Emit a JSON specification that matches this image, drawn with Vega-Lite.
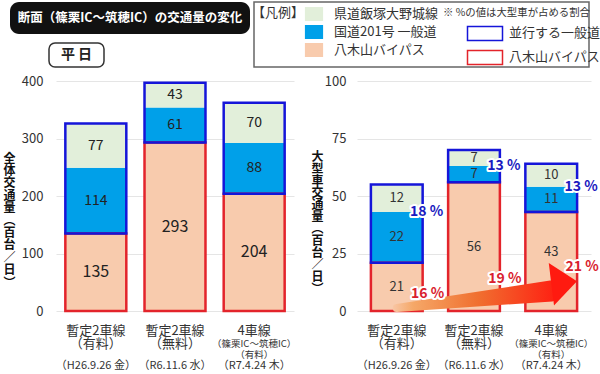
{
  "$schema": "https://vega.github.io/schema/vega-lite/v6.json",
  "padding": {"left": 1, "top": 1, "right": 0, "bottom": 0},
  "background": "white",
  "spacing": 7,
  "config": {
    "font": "Noto Sans CJK JP",
    "view": {"stroke": null},
    "axis": {"labelFont": "Noto Sans CJK JP", "titleFont": "Noto Sans CJK JP"},
    "text": {"font": "Noto Sans CJK JP"},
    "legend": {"labelFont": "Noto Sans CJK JP", "titleFont": "Noto Sans CJK JP"}
  },
  "datasets": {
    "total": [
      {"cat": "暫定2車線（有料）", "seg": "八木山バイパス", "road": "八木山バイパス", "v": 135},
      {"cat": "暫定2車線（有料）", "seg": "国道201号 一般道", "road": "並行する一般道", "v": 114},
      {"cat": "暫定2車線（有料）", "seg": "県道飯塚大野城線", "road": "並行する一般道", "v": 77},
      {"cat": "暫定2車線（無料）", "seg": "八木山バイパス", "road": "八木山バイパス", "v": 293},
      {"cat": "暫定2車線（無料）", "seg": "国道201号 一般道", "road": "並行する一般道", "v": 61},
      {"cat": "暫定2車線（無料）", "seg": "県道飯塚大野城線", "road": "並行する一般道", "v": 43},
      {"cat": "4車線（篠栗IC～筑穂IC）（有料）", "seg": "八木山バイパス", "road": "八木山バイパス", "v": 204},
      {"cat": "4車線（篠栗IC～筑穂IC）（有料）", "seg": "国道201号 一般道", "road": "並行する一般道", "v": 88},
      {"cat": "4車線（篠栗IC～筑穂IC）（有料）", "seg": "県道飯塚大野城線", "road": "並行する一般道", "v": 70}
    ],
    "large": [
      {"cat": "暫定2車線（有料）", "seg": "八木山バイパス", "road": "八木山バイパス", "v": 21},
      {"cat": "暫定2車線（有料）", "seg": "国道201号 一般道", "road": "並行する一般道", "v": 22},
      {"cat": "暫定2車線（有料）", "seg": "県道飯塚大野城線", "road": "並行する一般道", "v": 12},
      {"cat": "暫定2車線（無料）", "seg": "八木山バイパス", "road": "八木山バイパス", "v": 56},
      {"cat": "暫定2車線（無料）", "seg": "国道201号 一般道", "road": "並行する一般道", "v": 7},
      {"cat": "暫定2車線（無料）", "seg": "県道飯塚大野城線", "road": "並行する一般道", "v": 7},
      {"cat": "4車線（篠栗IC～筑穂IC）（有料）", "seg": "八木山バイパス", "road": "八木山バイパス", "v": 43},
      {"cat": "4車線（篠栗IC～筑穂IC）（有料）", "seg": "国道201号 一般道", "road": "並行する一般道", "v": 11},
      {"cat": "4車線（篠栗IC～筑穂IC）（有料）", "seg": "県道飯塚大野城線", "road": "並行する一般道", "v": 10}
    ],
    "shareGeneral": [
      {"cat": "暫定2車線（有料）", "share": 18},
      {"cat": "暫定2車線（無料）", "share": 13},
      {"cat": "4車線（篠栗IC～筑穂IC）（有料）", "share": 13}
    ],
    "shareBypass": [
      {"cat": "暫定2車線（有料）", "share": 16, "lvl": 7.4},
      {"cat": "暫定2車線（無料）", "share": 19, "lvl": 13.9},
      {"cat": "4車線（篠栗IC～筑穂IC）（有料）", "share": 21, "lvl": 19.1}
    ],
    "arrow": [
      {"cat": "暫定2車線（有料）", "lvl": 1.3, "t": 0},
      {"cat": "4車線（篠栗IC～筑穂IC）（有料）", "lvl": 8.7, "t": 1}
    ],
    "arrowHead": [
      {"cat": "4車線（篠栗IC～筑穂IC）（有料）", "lvl": 12.3}
    ]
  },
  "vconcat": [
    {
      "spacing": 8,
      "hconcat": [
        {"width": 1, "height": 10, "data": {"values": []}, "mark": "point"},
        {
          "spacing": 3,
          "hconcat": [
            {
              "spacing": 8,
              "vconcat": [
                {
                  "width": 240, "height": 32,
                  "view": {"fill": "#111111", "stroke": null, "cornerRadius": 9},
                  "data": {"values": [{"t": "断面（篠栗IC～筑穂IC）の交通量の変化"}]},
                  "mark": {"type": "text", "color": "white", "fontSize": 12.5, "fontWeight": "bold"},
                  "encoding": {"text": {"field": "t", "type": "nominal"}}
                },
                {
                  "spacing": 20,
                  "hconcat": [
                    {"width": 18, "height": 24, "data": {"values": []}, "mark": "point"},
                    {
                      "width": 55, "height": 24,
                      "view": {"fill": "white", "stroke": "#333333", "strokeWidth": 1.5, "cornerRadius": 6},
                      "data": {"values": [{"t": "平 日"}]},
                      "mark": {"type": "text", "fontSize": 14, "fontWeight": "bold", "color": "#222222"},
                      "encoding": {"text": {"field": "t", "type": "nominal"}}
                    }
                  ]
                }
              ]
            },
            {
              "width": 335, "height": 65,
              "view": {"fill": "white", "stroke": "#666666", "strokeWidth": 1.5},
              "data": {"values": []},
              "mark": "point"
            }
          ]
        }
      ]
    },
    {
      "spacing": 0,
      "hconcat": [
        {"width": 1, "height": 10, "data": {"values": []}, "mark": "point"},
        {
          "spacing": 14,
          "hconcat": [
            {
              "width": 238, "height": 230,
              "resolve": {"axis": {"x": "independent"}},
              "layer": [
                {
                  "data": {"name": "total"},
                  "transform": [{"stack": "v", "groupby": ["cat"], "sort": [{"field": "seg", "order": "ascending"}], "as": ["v0", "v1"]}],
                  "mark": {"type": "bar"},
                  "encoding": {
                    "x": {"field": "cat", "type": "nominal",
                      "scale": {"domain": ["暫定2車線（有料）", "暫定2車線（無料）", "4車線（篠栗IC～筑穂IC）（有料）"], "paddingInner": 0.23, "paddingOuter": 0.118},
                      "axis": {"orient": "bottom", "title": null, "domain": false, "ticks": false, "grid": false, "labelAngle": 0, "labelFontSize": 13, "labelColor": "#333333", "labelPadding": 13, "labelLineHeight": 13, "labelBaseline": "top", "labelOverlap": false,
                        "labelExpr": "datum.value === '4車線（篠栗IC～筑穂IC）（有料）' ? '4車線' : [slice(datum.value, 0, 5), slice(datum.value, 5)]"}},
                    "y": {"field": "v1", "type": "quantitative", "scale": {"domain": [0, 400]},
                      "axis": {"values": [0, 100, 200, 300, 400], "grid": true, "gridColor": "#e5e5e5", "domain": false, "ticks": false, "labelFontSize": 13, "labelColor": "#333333", "labelPadding": 13,
                        "title": ["全", "体", "交", "通", "量", "︵", "百", "台", "／", "日", "︶"],
                        "titleAngle": 0, "titleAlign": "center", "titleBaseline": "middle", "titleX": -47, "titleY": 77, "titleFontSize": 12, "titleFontWeight": "bold", "titleLineHeight": 12.4, "titleColor": "#111111"}},
                    "y2": {"field": "v0"},
                    "fill": {"field": "seg", "type": "nominal",
                      "scale": {"domain": ["県道飯塚大野城線", "国道201号 一般道", "八木山バイパス"], "range": ["#e2efda", "#00a0e9", "#f8cbad"]},
                      "legend": {"orient": "none", "legendX": 251, "legendY": 5, "title": "【凡例】", "titleOrient": "left", "titleAnchor": "start", "titleBaseline": "top", "titleFontSize": 13, "titleFontWeight": "normal", "titleColor": "#333333", "titlePadding": 2,
                        "symbolType": "M-1.3,-1H1.3V1H-1.3Z", "symbolSize": 196, "symbolStrokeWidth": 0, "labelFontSize": 13, "labelColor": "#333333", "labelOffset": 13, "rowPadding": 4, "padding": 0}}
                  }
                },
                {
                  "data": {"name": "total"},
                  "transform": [
                    {"stack": "v", "groupby": ["cat"], "sort": [{"field": "seg", "order": "ascending"}], "as": ["v0", "v1"]},
                    {"aggregate": [{"op": "min", "field": "v0", "as": "lo"}, {"op": "max", "field": "v1", "as": "hi"}], "groupby": ["cat", "road"]}
                  ],
                  "mark": {"type": "bar", "fill": "transparent", "strokeWidth": 2.5},
                  "encoding": {
                    "x": {"field": "cat", "type": "nominal",
                      "axis": {"orient": "bottom", "title": null, "domain": false, "ticks": false, "grid": false, "labelAngle": 0, "labelFontSize": 9.5, "labelColor": "#333333", "labelPadding": 27, "labelLineHeight": 11, "labelBaseline": "top", "labelOverlap": false,
                        "labelExpr": "datum.value === '4車線（篠栗IC～筑穂IC）（有料）' ? ['（篠栗IC～筑穂IC）', '（有料）'] : ''"}},
                    "y": {"field": "hi", "type": "quantitative"},
                    "y2": {"field": "lo"},
                    "stroke": {"field": "road", "type": "nominal",
                      "scale": {"domain": ["並行する一般道", "八木山バイパス"], "range": ["#1515d9", "#e3242b"]},
                      "legend": {"orient": "none", "legendX": 442, "legendY": 6, "title": "※ %の値は大型車が占める割合", "titleFontSize": 10.4, "titleFontWeight": "normal", "titleColor": "#333333", "titlePadding": 7,
                        "symbolType": "M-2.5,-1H2.5V1H-2.5Z", "symbolSize": 196, "symbolStrokeWidth": 1.5, "symbolFillColor": "white", "symbolOffset": 34, "labelOffset": 16, "labelFontSize": 13, "labelColor": "#333333", "rowPadding": 4, "padding": 0}}
                  }
                },
                {
                  "data": {"name": "total"},
                  "transform": [
                    {"stack": "v", "groupby": ["cat"], "sort": [{"field": "seg", "order": "ascending"}], "as": ["v0", "v1"]},
                    {"calculate": "(datum.v0 + datum.v1) / 2", "as": "mid"}
                  ],
                  "mark": {"type": "text", "color": "#222222"},
                  "encoding": {
                    "x": {"field": "cat", "type": "nominal",
                      "axis": {"orient": "bottom", "title": null, "domain": false, "ticks": false, "grid": false, "labelAngle": 0, "labelFontSize": 11, "labelColor": "#333333", "labelPadding": 48, "labelBaseline": "top", "labelOverlap": false,
                        "labelExpr": "datum.value === '暫定2車線（有料）' ? '（H26.9.26 金）' : datum.value === '暫定2車線（無料）' ? '（R6.11.6 水）' : '（R7.4.24 木）'"}},
                    "y": {"field": "mid", "type": "quantitative"},
                    "text": {"field": "v", "type": "quantitative"},
                    "size": {"condition": {"test": "datum.seg === '八木山バイパス'", "value": 16}, "value": 14}
                  }
                }
              ]
            },
            {
              "width": 234, "height": 230,
              "resolve": {"axis": {"x": "independent"}},
              "layer": [
                {
                  "data": {"name": "large"},
                  "transform": [{"stack": "v", "groupby": ["cat"], "sort": [{"field": "seg", "order": "ascending"}], "as": ["v0", "v1"]}],
                  "mark": {"type": "bar"},
                  "encoding": {
                    "x": {"field": "cat", "type": "nominal",
                      "scale": {"domain": ["暫定2車線（有料）", "暫定2車線（無料）", "4車線（篠栗IC～筑穂IC）（有料）"], "paddingInner": 0.33, "paddingOuter": 0.18},
                      "axis": {"orient": "bottom", "title": null, "domain": false, "ticks": false, "grid": false, "labelAngle": 0, "labelFontSize": 13, "labelColor": "#333333", "labelPadding": 13, "labelLineHeight": 13, "labelBaseline": "top", "labelOverlap": false,
                        "labelExpr": "datum.value === '4車線（篠栗IC～筑穂IC）（有料）' ? '4車線' : [slice(datum.value, 0, 5), slice(datum.value, 5)]"}},
                    "y": {"field": "v1", "type": "quantitative", "scale": {"domain": [0, 100]},
                      "axis": {"values": [0, 25, 50, 75, 100], "grid": true, "gridColor": "#e5e5e5", "domain": false, "ticks": false, "labelFontSize": 13, "labelColor": "#333333", "labelPadding": 11,
                        "title": ["大", "型", "車", "交", "通", "量", "︵", "百", "台", "／", "日", "︶"],
                        "titleAngle": 0, "titleAlign": "center", "titleBaseline": "middle", "titleX": -40, "titleY": 75, "titleFontSize": 12, "titleFontWeight": "bold", "titleLineHeight": 12, "titleColor": "#111111"}},
                    "y2": {"field": "v0"},
                    "fill": {"field": "seg", "type": "nominal", "legend": null}
                  }
                },
                {
                  "data": {"name": "large"},
                  "transform": [
                    {"stack": "v", "groupby": ["cat"], "sort": [{"field": "seg", "order": "ascending"}], "as": ["v0", "v1"]},
                    {"aggregate": [{"op": "min", "field": "v0", "as": "lo"}, {"op": "max", "field": "v1", "as": "hi"}], "groupby": ["cat", "road"]}
                  ],
                  "mark": {"type": "bar", "fill": "transparent", "strokeWidth": 2.5},
                  "encoding": {
                    "x": {"field": "cat", "type": "nominal",
                      "axis": {"orient": "bottom", "title": null, "domain": false, "ticks": false, "grid": false, "labelAngle": 0, "labelFontSize": 9.5, "labelColor": "#333333", "labelPadding": 27, "labelLineHeight": 11, "labelBaseline": "top", "labelOverlap": false,
                        "labelExpr": "datum.value === '4車線（篠栗IC～筑穂IC）（有料）' ? ['（篠栗IC～筑穂IC）', '（有料）'] : ''"}},
                    "y": {"field": "hi", "type": "quantitative"},
                    "y2": {"field": "lo"},
                    "stroke": {"field": "road", "type": "nominal", "legend": null}
                  }
                },
                {
                  "data": {"name": "large"},
                  "transform": [
                    {"stack": "v", "groupby": ["cat"], "sort": [{"field": "seg", "order": "ascending"}], "as": ["v0", "v1"]},
                    {"calculate": "(datum.v0 + datum.v1) / 2", "as": "mid"},
                    {"filter": "!(datum.cat === '4車線（篠栗IC～筑穂IC）（有料）' && datum.seg === '八木山バイパス')"}
                  ],
                  "mark": {"type": "text", "color": "#333333", "fontSize": 13},
                  "encoding": {
                    "x": {"field": "cat", "type": "nominal",
                      "axis": {"orient": "bottom", "title": null, "domain": false, "ticks": false, "grid": false, "labelAngle": 0, "labelFontSize": 11, "labelColor": "#333333", "labelPadding": 48, "labelBaseline": "top", "labelOverlap": false,
                        "labelExpr": "datum.value === '暫定2車線（有料）' ? '（H26.9.26 金）' : datum.value === '暫定2車線（無料）' ? '（R6.11.6 水）' : '（R7.4.24 木）'"}},
                    "y": {"field": "mid", "type": "quantitative"},
                    "text": {"field": "v", "type": "quantitative"}
                  }
                },
                {
                  "data": {"name": "large"},
                  "transform": [
                    {"stack": "v", "groupby": ["cat"], "sort": [{"field": "seg", "order": "ascending"}], "as": ["v0", "v1"]},
                    {"calculate": "(datum.v0 + datum.v1) / 2", "as": "mid"},
                    {"filter": "datum.cat === '4車線（篠栗IC～筑穂IC）（有料）' && datum.seg === '八木山バイパス'"}
                  ],
                  "mark": {"type": "text", "color": "#333333", "fontSize": 13, "dy": -10},
                  "encoding": {
                    "x": {"field": "cat", "type": "nominal", "axis": null},
                    "y": {"field": "mid", "type": "quantitative"},
                    "text": {"field": "v", "type": "quantitative"}
                  }
                },
                {
                  "data": {"name": "arrow"},
                  "mark": {"type": "trail", "color": {"gradient": "linear", "x1": 0, "y1": 0, "x2": 1, "y2": 0, "stops": [{"offset": 0, "color": "#f8c6a4"}, {"offset": 0.12, "color": "#f5a868"}, {"offset": 0.5, "color": "#f07030"}, {"offset": 1, "color": "#ff1a10"}]}},
                  "encoding": {
                    "x": {"field": "cat", "type": "nominal", "axis": null},
                    "y": {"field": "lvl", "type": "quantitative"},
                    "size": {"field": "t", "type": "quantitative", "scale": {"range": [8, 21]}, "legend": null}
                  }
                },
                {
                  "data": {"name": "arrowHead"},
                  "mark": {"type": "point", "shape": "M-0.6,-1L0.6,0L-0.6,1Z", "size": 1849, "filled": true, "color": "#ff1a10", "opacity": 1, "angle": -7},
                  "encoding": {
                    "x": {"field": "cat", "type": "nominal", "bandPosition": 0.75, "axis": null},
                    "y": {"field": "lvl", "type": "quantitative"}
                  }
                },
                {
                  "data": {"name": "large"},
                  "transform": [
                    {"stack": "v", "groupby": ["cat"], "sort": [{"field": "seg", "order": "ascending"}], "as": ["v0", "v1"]},
                    {"filter": "datum.seg === '国道201号 一般道'"},
                    {"lookup": "cat", "from": {"data": {"name": "shareGeneral"}, "key": "cat", "fields": ["share"]}},
                    {"calculate": "datum.share + ' %'", "as": "lab"}
                  ],
                  "encoding": {
                    "x": {"field": "cat", "type": "nominal", "bandPosition": 1, "axis": null},
                    "y": {"field": "v1", "type": "quantitative"},
                    "text": {"field": "lab", "type": "nominal"}
                  },
                  "layer": [
                    {"mark": {"type": "text", "dx": 4, "fontSize": 14, "fontWeight": "bold", "stroke": "white", "strokeWidth": 4, "strokeJoin": "round", "color": "white"}},
                    {"mark": {"type": "text", "dx": 4, "fontSize": 14, "fontWeight": "bold", "color": "#1a1ac0"}}
                  ]
                },
                {
                  "data": {"name": "shareBypass"},
                  "transform": [{"calculate": "datum.share + ' %'", "as": "lab"}],
                  "encoding": {
                    "x": {"field": "cat", "type": "nominal", "bandPosition": 1, "axis": null},
                    "y": {"field": "lvl", "type": "quantitative"},
                    "text": {"field": "lab", "type": "nominal"}
                  },
                  "layer": [
                    {"mark": {"type": "text", "dx": 5, "fontSize": 14, "fontWeight": "bold", "stroke": "white", "strokeWidth": 4, "strokeJoin": "round", "color": "white"}},
                    {"mark": {"type": "text", "dx": 5, "fontSize": 14, "fontWeight": "bold", "color": "#d91e2e"}}
                  ]
                }
              ]
            }
          ]
        }
      ]
    }
  ]
}
